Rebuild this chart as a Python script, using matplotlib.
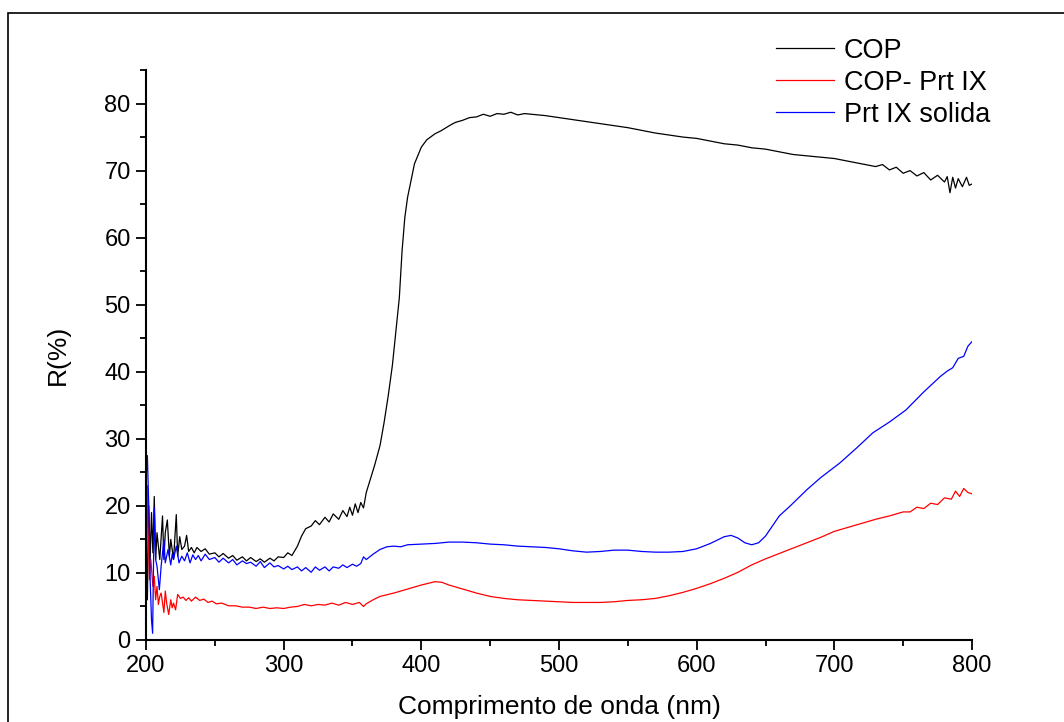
import matplotlib
matplotlib.use('Agg')
import matplotlib.pyplot as plt
from matplotlib.patches import Rectangle
from matplotlib.ticker import MultipleLocator

plt.rcParams['font.family'] = ['Liberation Sans', 'DejaVu Sans']

# COP (black)
cop_wl = [200, 201, 202, 203, 204, 205, 206, 207, 208, 210, 212, 213, 214, 215.5, 217, 218, 220, 222, 223, 224.5,
          226, 228, 229.5, 231, 233, 235, 237, 240, 243, 246, 250, 253, 256, 260, 263, 266, 270, 273, 276, 280,
          283, 286, 290, 293, 296, 300, 303, 306, 310, 313, 316, 320, 323, 326, 330, 333, 336, 340, 343, 346,
          348, 350, 352, 354, 356, 358, 360, 363, 366, 370, 373, 376,
          379, 382, 384, 386, 388, 390, 392, 395, 397, 400, 404, 410, 414, 418, 422, 425, 430, 435, 440, 445, 450, 455,
          460, 465, 470, 475, 480,
          490, 500, 510, 520, 530, 540, 550, 560, 570, 580, 590, 600, 610, 620, 630, 640, 650, 660, 670, 680,
          690, 700, 710, 720, 730, 735, 740, 745, 750, 755, 760, 765, 770, 775, 780, 782, 784, 786, 788, 790, 793, 796, 798, 800]
cop_r = [19, 6, 20, 12, 19, 13, 21.4, 12, 16, 12, 18.5, 12, 16, 17.9, 12.5, 15, 12, 18.7, 12.5, 15.4,
         13.5, 14, 15.6, 13.2, 13.8, 13, 13.8, 13.2, 13.6, 12.8, 13, 12.4, 12.9, 12.2, 12.6, 11.9, 12.4, 11.8, 12.3, 11.7,
         12.1, 11.6, 12.2, 11.8, 12.4, 12.3, 13, 12.6, 14, 15.5, 16.6, 17, 17.8, 17.2, 18.3, 17.6, 18.8, 18, 19.3, 18.4,
         19.8, 18.6, 20.3, 19, 20.5, 19.7, 22, 24, 26, 29, 32.5, 36.5,
         41, 47, 51, 58, 63, 66, 68, 71, 72, 73.5, 74.6, 75.5, 75.9, 76.4, 76.9, 77.2, 77.5, 77.9, 78, 78.4, 78.1, 78.5,
         78.4, 78.7, 78.3, 78.5, 78.4,
         78.2, 77.9, 77.6, 77.3, 77, 76.7, 76.4, 76, 75.6, 75.3, 75, 74.8, 74.4, 74, 73.8, 73.4, 73.2, 72.8, 72.4, 72.2,
         72, 71.8, 71.4, 71, 70.6, 70.9, 70.1, 70.5, 69.6, 70, 69.2, 69.7, 68.6, 69.3, 68.3, 69.1, 66.7, 69, 67.4, 68.8, 67.6, 69, 67.8, 68]

# COP- Prt IX (red)
cpx_wl = [200, 201, 202.5, 203.5, 205, 206, 207, 208, 209, 210, 211, 213, 214, 215, 216.5, 218, 219, 220, 221.5, 223,
          225, 227, 229, 231, 233, 236, 239, 242, 245, 248, 251, 255, 260, 265, 270, 275, 280, 285, 290, 295,
          300, 305, 310, 315, 320, 325, 330, 335, 340, 345, 350, 355, 358, 360, 365, 370, 380, 390, 400, 410, 415,
          420, 430, 440, 450, 460, 470, 480, 490, 500, 510,
          520, 530, 540, 550, 560, 570, 580, 590, 600, 610, 620, 630, 640, 650, 660, 670, 680, 690, 700, 710,
          720, 730, 740, 750, 755, 760, 765, 770, 775, 780, 785, 788, 791, 794, 797, 800]
cpx_r = [0, 23, 9, 12, 8, 9.5, 6, 8, 5.3, 6.5, 7, 4.1, 7.3, 5.5, 3.8, 6, 4.8, 5.5, 4.5, 6.8,
         6.2, 6.4, 5.9, 6.3, 5.8, 6.4, 5.9, 6.1, 5.6, 5.8, 5.4, 5.5, 5.1, 5.1, 4.9, 4.9, 4.7, 4.9, 4.7, 4.8,
         4.7, 4.9, 5, 5.3, 5.1, 5.3, 5.2, 5.5, 5.2, 5.6, 5.3, 5.6, 5.0, 5.4, 6, 6.5, 7, 7.6, 8.2, 8.7, 8.6,
         8.2, 7.6, 7, 6.5, 6.2, 6, 5.9, 5.8, 5.7, 5.6,
         5.6, 5.6, 5.7, 5.9, 6, 6.2, 6.6, 7.1, 7.7, 8.4, 9.2, 10.1, 11.2, 12.1, 12.9, 13.7, 14.5, 15.3, 16.2, 16.8,
         17.4, 18, 18.5, 19.1, 19.1, 19.8, 19.6, 20.4, 20.2, 21.2, 21.0, 22.2, 21.4, 22.6, 22.0, 21.8]

# Prt IX solida (blue)
prt_wl = [200, 201, 202, 203, 204, 204.8, 206, 207, 208, 209.7, 211, 213, 214, 215, 216, 218, 219, 220, 222, 224,
          226, 228, 230, 232, 234, 236, 238, 240, 243, 246, 250, 253, 256, 260, 263, 266, 270, 273, 276, 280,
          283, 286, 290, 293, 296, 300, 303, 306, 310, 313, 316, 320, 323, 326, 330, 333, 336, 340, 343, 346,
          350, 353, 356, 358, 360, 365, 370, 375, 380, 385, 390, 400, 410, 420, 430, 440, 450, 460,
          470, 480, 490, 500, 510, 520, 530, 540, 550, 560, 570, 580, 590, 600, 610, 620, 625, 630, 635, 640,
          645, 650, 655, 660, 668, 680, 690, 704, 716, 728, 740, 752, 765, 777, 782, 786, 790, 794, 797, 800]
prt_r = [24, 27.5, 20, 9, 3, 1, 19.7, 12, 11, 7.5, 11, 15, 11.5, 12.5, 13.5, 11.2, 12.8, 12, 14, 11.5,
         12.5, 11.8, 13, 11.5, 12.7, 12, 12.6, 11.8, 12.8, 12, 12.3, 11.6, 12.2, 11.5, 12, 11.2, 11.8, 11.4, 11.6, 11,
         11.7, 10.8, 11.5, 10.9, 11.1, 10.6, 11, 10.5, 10.9, 10.3, 10.8, 10.1, 10.9, 10.4, 10.9, 10.3, 10.9, 10.7, 11.2, 10.8,
         11.3, 11, 11.4, 12.4, 12, 12.8, 13.5, 13.9, 14, 13.9, 14.2, 14.3, 14.4, 14.6, 14.6, 14.5, 14.3, 14.2,
         14, 13.9, 13.8, 13.6, 13.3, 13.1, 13.2, 13.4, 13.4, 13.2, 13.1, 13.1, 13.2, 13.6, 14.4, 15.4, 15.6, 15.2, 14.5, 14.2,
         14.5, 15.5, 17, 18.5, 20, 22.4, 24.2, 26.4, 28.6, 30.9, 32.5, 34.3, 37, 39.3, 40.1, 40.6, 42, 42.3, 43.8, 44.5]

fig = plt.figure(figsize=(10.64, 7.22), dpi=100)
ax = fig.add_axes([146 / 1064, 82 / 722, 826 / 1064, 570 / 722])

ax.plot(cop_wl, cop_r, color='black', lw=0.9, label='COP')
ax.plot(cpx_wl, cpx_r, color='#ff0000', lw=0.9, label='COP- Prt IX')
ax.plot(prt_wl, prt_r, color='#0000ff', lw=0.9, label='Prt IX solida')

ax.set_xlim(200, 800)
ax.set_ylim(0, 85)
ax.set_xticks([200, 300, 400, 500, 600, 700, 800])
ax.set_yticks([0, 10, 20, 30, 40, 50, 60, 70, 80])
ax.xaxis.set_minor_locator(MultipleLocator(50))
ax.yaxis.set_minor_locator(MultipleLocator(5))

for side in ('top', 'right'):
    ax.spines[side].set_visible(False)
for side in ('left', 'bottom'):
    ax.spines[side].set_linewidth(1.5)

ax.tick_params(which='major', direction='out', length=7, width=1.3, labelsize=17, pad=4)
ax.tick_params(which='minor', direction='out', length=4, width=1.3)

ax.set_xlabel('Comprimento de onda (nm)', fontsize=19, labelpad=13)
ax.set_ylabel('R(%)', fontsize=19, labelpad=25)

ax.legend(loc='upper left', bbox_to_anchor=(765 / 1064, 1 - 27 / 722), bbox_transform=fig.transFigure,
          frameon=False, fontsize=19.5, handlelength=2.15, handletextpad=0.35, labelspacing=0.22, borderaxespad=0)

# outer frame around the figure
fig.patches.append(Rectangle((8 / 1064, -0.1), 1.2, 1 - 13 / 722 + 0.1, transform=fig.transFigure,
                             fill=False, edgecolor='black', linewidth=1.2))

fig.savefig('out.png', dpi=100)
